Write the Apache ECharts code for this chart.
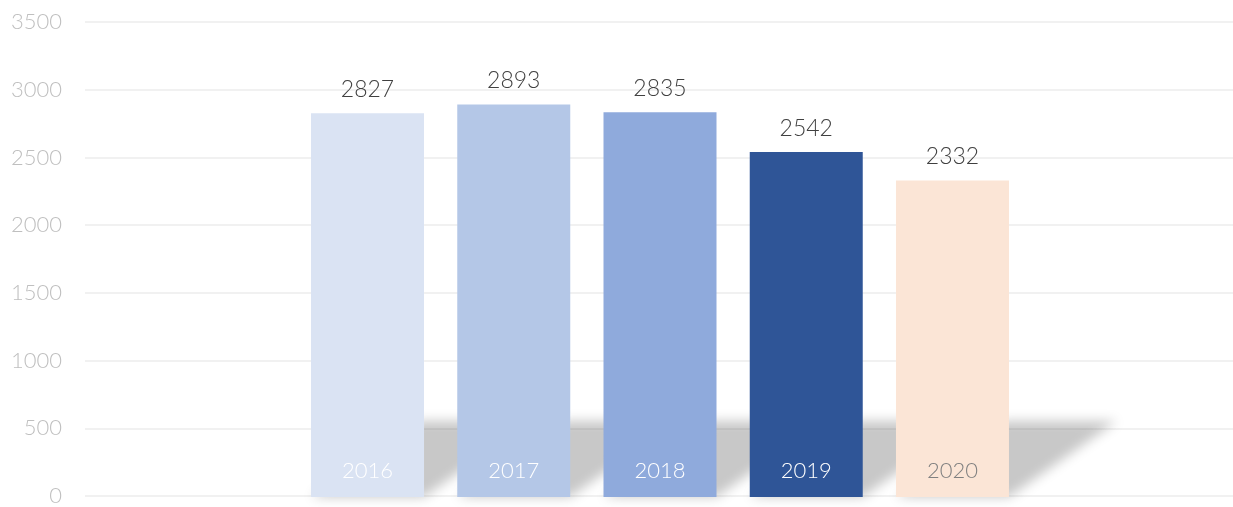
<!DOCTYPE html>
<html>
<head>
<meta charset="utf-8">
<script src="https://cdn.jsdelivr.net/npm/echarts@6/dist/echarts.min.js"></script>
<style>
html,body{margin:0;padding:0;background:#fff;}
#chart{width:1233px;height:507px;}
</style>
</head>
<body>
<div id="chart"></div>
<script>
var categories = ['2016', '2017', '2018', '2019', '2020'];
var values = [2827, 2893, 2835, 2542, 2332];
var barColors = ['#DAE3F3', '#B4C7E7', '#8FAADC', '#2F5597', '#FBE5D6'];
var catLabelColors = ['#ffffff', '#ffffff', '#ffffff', '#ffffff', '#808080'];
var yTicks = [0, 500, 1000, 1500, 2000, 2500, 3000, 3500];

var FONT = 'Lato';
var chart = echarts.init(document.getElementById('chart'), null, {renderer: 'canvas'});

var shadowH = 76, shadowDx = 108, OFF = 3000;

var option = {
  animation: false,
  grid: [
    {left: 85, right: 0, top: 22, bottom: 10},
    {left: 294.4, right: 207.4, top: 22, bottom: 10}
  ],
  xAxis: [
    {gridIndex: 0, type: 'value', show: false, min: 0, max: 1},
    {
      gridIndex: 1, type: 'category', data: categories, z: 5,
      axisLine: {show: false}, axisTick: {show: false},
      axisLabel: {
        inside: true, margin: 15, fontFamily: FONT, fontSize: 22, fontWeight: 300,
        color: function (v, i) { return catLabelColors[categories.indexOf(v)]; }
      }
    }
  ],
  yAxis: [
    {
      gridIndex: 0, type: 'value', min: 0, max: 3500, interval: 500, z: 1.5,
      axisLine: {show: false}, axisTick: {show: false},
      axisLabel: {margin: 23, color: '#BFBFBF', fontFamily: FONT, fontSize: 22, fontWeight: 300,
        formatter: function (v) { return yTicks.indexOf(v) >= 0 ? String(v) : ''; }},
      splitLine: {lineStyle: {color: 'rgba(0,0,0,0.075)', width: 1.5}}
    },
    {gridIndex: 1, type: 'value', min: 0, max: 3500, interval: 500, show: false, splitLine: {show: false}}
  ],
  series: [
    {
      type: 'custom', xAxisIndex: 1, yAxisIndex: 1, z: 1, silent: true, clip: false,
      data: values.map(function (v, i) { return [i, v]; }),
      renderItem: function (params, api) {
        var base = api.coord([api.value(0), 0]);
        var w = api.size([1, 0])[0] * 0.773;
        var xl = base[0] - w / 2 - OFF, xr = base[0] + w / 2 - OFF, y0 = base[1];
        return {
          type: 'polygon',
          shape: {points: [[xl, y0], [xr, y0], [xr + shadowDx, y0 - shadowH], [xl + shadowDx, y0 - shadowH]]},
          style: {fill: '#C8C8C8', shadowBlur: 12, shadowOffsetX: OFF, shadowOffsetY: 0, shadowColor: '#C8C8C8'}
        };
      }
    },
    {
      type: 'bar', xAxisIndex: 1, yAxisIndex: 1, z: 2,
      barWidth: 113,
      data: values.map(function (v, i) { return {value: v, itemStyle: {color: barColors[i]}}; }),
      label: {show: true, position: 'top', distance: 12, color: '#404040', fontFamily: FONT, fontSize: 23, fontWeight: 300}
    }
  ]
};
chart.setOption(option);
</script>
</body>
</html>
